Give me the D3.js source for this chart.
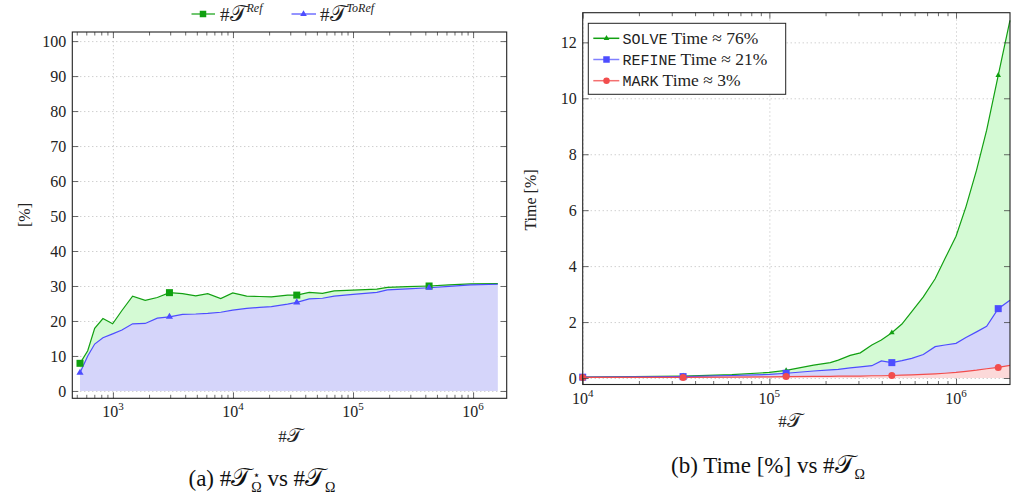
<!DOCTYPE html>
<html>
<head>
<meta charset="utf-8">
<script src="https://cdn.jsdelivr.net/npm/d3@7"></script>
<style>
  body { margin: 0; background: #fff; }
  .grid line { stroke: #bbb; stroke-dasharray: 1 3; }
  .grid path { display: none; }
  .ax path { display: none; }
  .ax line { stroke: #444; stroke-width: 0.8; }
  .mono { font-family: "Liberation Mono", "DejaVu Sans Mono", monospace; }
</style>
</head>
<body>
<svg id="fig" width="1013" height="495" font-family="Liberation Serif, DejaVu Serif, serif"></svg>
<script>
// (a) refined elements share
const refN = [532, 617, 705, 826, 995, 1189, 1459, 1858, 2344, 2958, 3802, 4898, 6166, 7907, 9954,
  13000, 16600, 20900, 28500, 34000, 43150, 55700, 69700, 100000, 158000, 193000, 282000, 430000,
  631000, 955000, 1607000];
const refPct = [7.9, 11.5, 17.9, 20.7, 19.2, 23.0, 27.1, 25.9, 26.7, 28.1, 27.8, 27.2, 27.8, 26.4, 28.0,
  27.1, 27.0, 26.9, 27.4, 27.4, 28.2, 27.9, 28.6, 28.8, 29.1, 29.6, 29.8, 30.0,
  30.3, 30.6, 30.7];
const toRefPct = [5.2, 10.0, 13.4, 15.2, 16.3, 17.4, 19.2, 19.3, 20.8, 21.2, 21.9, 22.0, 22.2, 22.5, 23.1,
  23.6, 23.9, 24.1, 24.8, 25.3, 26.3, 26.5, 27.1, 27.6, 28.2, 28.9, 29.2, 29.5,
  29.9, 30.3, 30.5];
const refMarkIdx = [0, 9, 19, 27];
const refYTicks = [0, 10, 20, 30, 40, 50, 60, 70, 80, 90, 100];

// (b) time shares
const timeN = [10000, 18600, 34500, 63000, 100000, 123000, 172600, 212000, 234000, 271000, 307000,
  354000, 398000, 453000, 513000, 579000, 668000, 773000, 873000, 1000000, 1130000, 1288000,
  1459000, 1683000, 1945000];
const solveTime = [0.03, 0.05, 0.07, 0.12, 0.20, 0.27, 0.46, 0.55, 0.64, 0.81, 0.90,
  1.18, 1.36, 1.62, 1.93, 2.37, 2.90, 3.55, 4.27, 5.07, 6.12, 7.43,
  8.86, 10.82, 12.79];
const refineTime = [0.03, 0.04, 0.05, 0.09, 0.13, 0.17, 0.25, 0.29, 0.31, 0.36, 0.40,
  0.44, 0.61, 0.55, 0.62, 0.70, 0.84, 1.12, 1.18, 1.24, 1.45, 1.65,
  1.85, 2.48, 2.78];
const markTime = [0.02, 0.02, 0.02, 0.03, 0.04, 0.05, 0.06, 0.06, 0.07, 0.07, 0.07,
  0.08, 0.08, 0.09, 0.10, 0.11, 0.13, 0.15, 0.17, 0.20, 0.24, 0.28,
  0.33, 0.38, 0.45];
const timeMarkIdx = [0, 2, 5, 13, 23];
const timeYTicks = [0, 2, 4, 6, 8, 10, 12];
const timeLegend = [["SOLVE", " Time \u2248 76%"], ["REFINE", " Time \u2248 21%"], ["MARK", " Time \u2248 3%"]];

const GREEN = "#12a012", GREEN_F = "#d4fad4";
const BLUE = "#4d4dff", BLUE_F = "#d5d5fa";
const RED = "#f24d4d", RED_F = "#fcd9d9";
const SCRIPT_T = "\u{1D4AF}";

const svg = d3.select("#fig");

function minorTicks(lo, hi) {
  let out = [];
  for (let e = Math.floor(Math.log10(lo)); e <= Math.ceil(Math.log10(hi)); e++) {
    for (let m = 2; m < 10; m++) {
      let v = m * Math.pow(10, e);
      if (v >= lo && v <= hi) out.push(v);
    }
  }
  return out;
}

function frame(g, x, y, majorX, yTicks) {
  let [x0, x1] = x.range(), [y0, y1] = y.range();
  let w = x1 - x0, h = y0 - y1;
  g.append("g").attr("class", "grid").attr("transform", `translate(0,${y0})`)
    .call(d3.axisBottom(x).tickValues(majorX).tickSize(-h).tickFormat(""));
  g.append("g").attr("class", "grid").attr("transform", `translate(${x0},0)`)
    .call(d3.axisLeft(y).tickValues(yTicks).tickSize(-w).tickFormat(""));
}

function axes(g, x, y, majorX, yTicks) {
  let [x0, x1] = x.range(), [y0, y1] = y.range();
  let minors = minorTicks(x.domain()[0], x.domain()[1]);
  [[y0, d3.axisBottom], [y1, d3.axisTop]].forEach(([yy, ax]) => {
    g.append("g").attr("class", "ax").attr("transform", `translate(0,${yy})`)
      .call(ax(x).tickValues(majorX).tickSize(-6).tickFormat(""));
    g.append("g").attr("class", "ax").attr("transform", `translate(0,${yy})`)
      .call(ax(x).tickValues(minors).tickSize(-3.5).tickFormat(""));
  });
  g.append("g").attr("class", "ax").attr("transform", `translate(${x0},0)`)
    .call(d3.axisLeft(y).tickValues(yTicks).tickSize(-6).tickFormat(""));
  g.append("g").attr("class", "ax").attr("transform", `translate(${x1},0)`)
    .call(d3.axisRight(y).tickValues(yTicks).tickSize(-6).tickFormat(""));
  g.append("rect").attr("x", x0).attr("y", y1).attr("width", x1 - x0).attr("height", y0 - y1)
    .attr("fill", "none").attr("stroke", "#222").attr("stroke-width", 1.1);

  // tick labels
  majorX.forEach(v => {
    let t = g.append("text").attr("x", x(v)).attr("y", y0 + 19).attr("text-anchor", "middle")
      .attr("font-size", 16).attr("fill", "#222");
    t.append("tspan").text("10");
    t.append("tspan").attr("dy", -7).attr("font-size", 11).text(Math.round(Math.log10(v)));
  });
  yTicks.forEach(v => {
    g.append("text").attr("x", x0 - 6).attr("y", y(v)).attr("dy", "0.35em")
      .attr("text-anchor", "end").attr("font-size", 16).attr("fill", "#222").text(v);
  });
}

function marker(g, type, cx, cy, color, s) {
  if (type === "square") {
    g.append("rect").attr("x", cx - s / 2).attr("y", cy - s / 2).attr("width", s).attr("height", s).attr("fill", color);
  } else if (type === "tri") {
    g.append("path").attr("d", d3.symbol(d3.symbolTriangle, s * s * 0.45)()).attr("transform", `translate(${cx},${cy})`).attr("fill", color);
  } else {
    g.append("circle").attr("cx", cx).attr("cy", cy).attr("r", s / 2).attr("fill", color);
  }
}

// "#T" with a calligraphic T
function scriptT(t) {
  t.append("tspan").text("#");
  t.append("tspan").attr("font-size", "1.15em").text(SCRIPT_T);
}

// ---------------- (a)
{
  const g = svg.append("g");
  const x = d3.scaleLog().domain([459, 1.905e6]).range([72.3, 506.7]);
  const y = d3.scaleLinear().domain([-2.1, 102.6]).range([398.3, 32]);
  const majorX = [1e3, 1e4, 1e5, 1e6];
  frame(g, x, y, majorX, refYTicks);

  const idx = d3.range(refN.length);
  const areaBetween = d3.area().x(i => x(refN[i])).y0(i => y(toRefPct[i])).y1(i => y(refPct[i]));
  const areaBelow = d3.area().x(i => x(refN[i])).y0(y(0)).y1(i => y(toRefPct[i]));
  g.append("path").attr("d", areaBetween(idx)).attr("fill", GREEN_F);
  g.append("path").attr("d", areaBelow(idx)).attr("fill", BLUE_F);
  const lineRef = d3.line().x(i => x(refN[i])).y(i => y(refPct[i]));
  const lineTo = d3.line().x(i => x(refN[i])).y(i => y(toRefPct[i]));
  g.append("path").attr("d", lineRef(idx)).attr("fill", "none").attr("stroke", GREEN).attr("stroke-width", 1.2);
  g.append("path").attr("d", lineTo(idx)).attr("fill", "none").attr("stroke", BLUE).attr("stroke-width", 1.2);
  refMarkIdx.forEach(i => {
    marker(g, "square", x(refN[i]), y(refPct[i]), "#10a010", 7);
    marker(g, "tri", x(refN[i]), y(toRefPct[i]), BLUE, 7);
  });

  axes(g, x, y, majorX, refYTicks);

  // legend
  const lg = svg.append("g");
  [[191.5, 215, 203, "square", GREEN, "Ref", 220], [291.5, 316, 303.5, "tri", BLUE, "ToRef", 320]].forEach(d => {
    lg.append("line").attr("x1", d[0]).attr("x2", d[1]).attr("y1", 14).attr("y2", 14).attr("stroke", d[4]).attr("stroke-width", 1.2);
    marker(lg, d[3], d[2], 14, d[4] === GREEN ? "#10a010" : BLUE, 6.5);
    const t = lg.append("text").attr("x", d[6]).attr("y", 21).attr("font-size", 19).attr("fill", "#222");
    scriptT(t);
    t.append("tspan").attr("dy", -9).attr("font-size", 12).attr("font-style", "italic").text(d[5]);
  });

  const xl = svg.append("text").attr("x", 290).attr("y", 442).attr("text-anchor", "middle").attr("font-size", 17).attr("fill", "#222");
  scriptT(xl);
  svg.append("text").attr("transform", "translate(30,215) rotate(-90)").attr("text-anchor", "middle")
    .attr("font-size", 16).attr("fill", "#222").text("[%]");

  const cap = svg.append("text").attr("x", 262).attr("y", 486).attr("text-anchor", "middle").attr("font-size", 23).attr("fill", "#111");
  cap.append("tspan").text("(a) ");
  scriptT(cap);
  const om = cap.append("tspan").attr("dy", 6).attr("font-size", 14).text("\u03A9");
  cap.append("tspan").attr("dy", -6).text(" vs ");
  scriptT(cap);
  cap.append("tspan").attr("dy", 6).attr("font-size", 14).text("\u03A9");
  // star sits above the first subscript
  const bb = om.node().getBBox();
  svg.append("text").attr("x", bb.x + bb.width / 2).attr("y", bb.y - 1).attr("text-anchor", "middle")
    .attr("font-size", 12).attr("font-family", "DejaVu Sans").attr("fill", "#111").text("\u22C6");
}

// ---------------- (b)
{
  const g = svg.append("g");
  const x = d3.scaleLog().domain([1e4, 1.946e6]).range([582.7, 1010]);
  const y = d3.scaleLinear().domain([-0.232, 13.06]).range([384.5, 12.7]);
  const majorX = [1e4, 1e5, 1e6];
  frame(g, x, y, majorX, timeYTicks);

  const idx = d3.range(timeN.length);
  const X = i => x(timeN[i]);
  g.append("path").attr("d", d3.area().x(X).y0(i => y(refineTime[i])).y1(i => y(solveTime[i]))(idx)).attr("fill", GREEN_F);
  g.append("path").attr("d", d3.area().x(X).y0(i => y(markTime[i])).y1(i => y(refineTime[i]))(idx)).attr("fill", BLUE_F);
  g.append("path").attr("d", d3.area().x(X).y0(y(0)).y1(i => y(markTime[i]))(idx)).attr("fill", RED_F);
  [[solveTime, GREEN], [refineTime, BLUE], [markTime, RED]].forEach(([s, c]) => {
    g.append("path").attr("d", d3.line().x(X).y(i => y(s[i]))(idx)).attr("fill", "none").attr("stroke", c).attr("stroke-width", 1.2);
  });
  timeMarkIdx.forEach(i => {
    marker(g, "tri", X(i), y(solveTime[i]), "#10a010", 5.5);
    marker(g, "square", X(i), y(refineTime[i]), BLUE, 7);
    marker(g, "circle", X(i), y(markTime[i]), RED, 7);
  });

  axes(g, x, y, majorX, timeYTicks);

  // legend
  const lg = svg.append("g");
  lg.append("rect").attr("x", 588.3).attr("y", 23.3).attr("width", 197.4).attr("height", 71)
    .attr("fill", "#fff").attr("stroke", "#222").attr("stroke-width", 1);
  const lc = [[GREEN, "tri", "#10a010"], ["#8080ff", "square", BLUE], ["#f47070", "circle", RED]];
  timeLegend.forEach((d, k) => {
    const yy = 38.3 + k * 21.2;
    lg.append("line").attr("x1", 593.3).attr("x2", 619.3).attr("y1", yy).attr("y2", yy).attr("stroke", lc[k][0]).attr("stroke-width", 1.5);
    marker(lg, lc[k][1], 606.5, yy, lc[k][2], k === 0 ? 5.5 : 6.5);
    const t = lg.append("text").attr("x", 622.5).attr("y", yy + 5.5).attr("font-size", 17.5).attr("fill", "#222");
    t.append("tspan").attr("class", "mono").attr("font-size", 15).text(d[0]);
    t.append("tspan").text(d[1]);
  });

  const xl = svg.append("text").attr("x", 790).attr("y", 427).attr("text-anchor", "middle").attr("font-size", 17).attr("fill", "#222");
  scriptT(xl);
  svg.append("text").attr("transform", "translate(536,200) rotate(-90)").attr("text-anchor", "middle")
    .attr("font-size", 16).attr("fill", "#222").text("Time [%]");

  const cap = svg.append("text").attr("x", 768).attr("y", 473).attr("text-anchor", "middle").attr("font-size", 23).attr("fill", "#111");
  cap.append("tspan").text("(b) Time [%] vs ");
  scriptT(cap);
  cap.append("tspan").attr("dy", 6).attr("font-size", 14).text("\u03A9");
}
</script>
</body>
</html>
